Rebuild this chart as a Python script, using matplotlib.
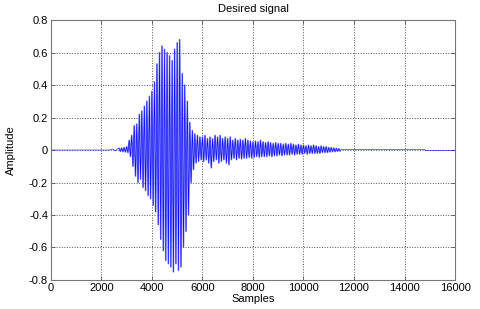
import numpy as np
import matplotlib
matplotlib.use('Agg')
import matplotlib.pyplot as plt

plt.rcParams['font.family'] = ['Liberation Sans', 'DejaVu Sans']

# peak readings of the waveform, one pair every 100 samples from 2700 on
env_start = 2700
env_step = 100
upper = [0.01, 0.012, 0.015, 0.02, 0.06, 0.09, 0.15, 0.16, 0.22, 0.24,
         0.27, 0.30, 0.33, 0.36, 0.42, 0.53, 0.60, 0.64, 0.62, 0.60,
         0.58, 0.55, 0.62, 0.66, 0.68, 0.47, 0.40, 0.30, 0.17, 0.12,
         0.10, 0.09, 0.08, 0.08, 0.09, 0.07, 0.08, 0.07, 0.09, 0.08,
         0.09, 0.07, 0.08, 0.07, 0.08, 0.06, 0.07, 0.06, 0.065, 0.06,
         0.07, 0.06, 0.055, 0.05, 0.055, 0.05, 0.06, 0.05, 0.045, 0.05,
         0.045, 0.04, 0.045, 0.04, 0.04, 0.035, 0.04, 0.035, 0.04, 0.035,
         0.03, 0.035, 0.03, 0.03, 0.025, 0.03, 0.025, 0.03, 0.025, 0.02,
         0.025, 0.02, 0.02, 0.015, 0.015, 0.012, 0.01, 0.008]
lower = [-0.008, -0.01, -0.012, -0.015, -0.04, -0.10, -0.16, -0.20, -0.18, -0.23,
         -0.25, -0.28, -0.30, -0.34, -0.38, -0.46, -0.55, -0.62, -0.68, -0.70,
         -0.72, -0.75, -0.70, -0.74, -0.72, -0.60, -0.50, -0.40, -0.20, -0.12,
         -0.08, -0.07, -0.06, -0.07, -0.06, -0.08, -0.11, -0.07, -0.06, -0.08,
         -0.07, -0.06, -0.08, -0.09, -0.06, -0.05, -0.06, -0.05, -0.055, -0.05,
         -0.05, -0.045, -0.05, -0.045, -0.04, -0.045, -0.04, -0.04, -0.04, -0.035,
         -0.04, -0.035, -0.035, -0.03, -0.035, -0.03, -0.03, -0.03, -0.025, -0.03,
         -0.025, -0.025, -0.025, -0.02, -0.025, -0.02, -0.02, -0.02, -0.02, -0.02,
         -0.015, -0.015, -0.015, -0.012, -0.01, -0.01, -0.008, -0.006]

# quiet parts before and after the word
lead_samples = [0, 2300, 2450, 2550, 2650]
lead_values = [0.0, 0.0, 0.006, -0.005, 0.008]
tail_samples = [11500, 12000, 12500, 13000, 13500, 14000, 14500, 14800, 14820, 16000]
tail_values = [0.005, 0.003, 0.004, 0.003, 0.004, 0.003, 0.004, 0.003, -0.004, -0.004]

env_x = []
env_y = []
for i, (u, l) in enumerate(zip(upper, lower)):
    s = env_start + i * env_step
    env_x += [s, s + env_step / 2]
    env_y += [u, l]

xs = lead_samples + env_x + tail_samples
ys = lead_values + env_y + tail_values

fig = plt.figure(figsize=(4.8, 3.09), dpi=100)
ax = fig.add_axes([0.106, 0.094, 0.842, 0.841])

# light halo on the loud part + thin dark stroke, like the dense antialiased trace
ax.plot(env_x, env_y, color='#8888ff', lw=1.2)
ax.plot(xs, ys, color=(0, 0, 1), lw=0.4)

ax.set_xlim(0, 16000)
ax.set_ylim(-0.8, 0.8)
ax.set_xticks(np.arange(0, 16001, 2000))
ax.set_yticks(np.arange(-0.8, 0.81, 0.2))
ax.set_yticklabels(['-0.8', '-0.6', '-0.4', '-0.2', '0', '0.2', '0.4', '0.6', '0.8'])
ax.grid(True, color='#555555', linestyle=':', lw=0.7)
ax.set_axisbelow(True)
ax.tick_params(direction='in', length=3, width=0.6, labelsize=8, top=True, right=True,
               color='#555555', pad=2)
for sp in ax.spines.values():
    sp.set_color('#777777')
    sp.set_linewidth(0.8)

ax.set_title('Desired signal', fontsize=8, pad=6)
ax.set_xlabel('Samples', fontsize=8, labelpad=1)
ax.set_ylabel('Amplitude', fontsize=8, labelpad=9)

fig.savefig('out.png', dpi=100)
